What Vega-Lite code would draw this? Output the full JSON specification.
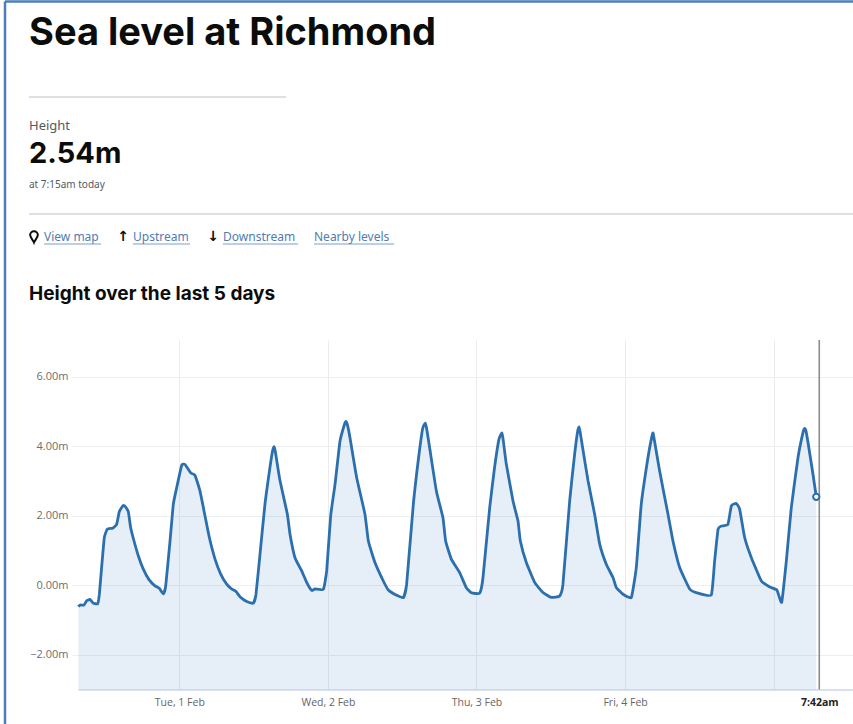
{"$schema":"https://vega.github.io/schema/vega-lite/v6.json","width":775,"height":349.5,"autosize":{"type":"none"},"padding":{"left":78,"top":340,"right":0,"bottom":34.5},"background":"white","config":{"view":{"stroke":null}},
"datasets":{"tide":[
{"t":"2022-01-31T07:41","h":-0.62},{"t":"2022-01-31T07:57","h":-0.57},{"t":"2022-01-31T08:36","h":-0.57},{"t":"2022-01-31T09:02","h":-0.45},{"t":"2022-01-31T09:34","h":-0.41},{"t":"2022-01-31T10:07","h":-0.52},{"t":"2022-01-31T10:49","h":-0.53},{"t":"2022-01-31T11:05","h":-0.26},{"t":"2022-01-31T11:27","h":0.51},{"t":"2022-01-31T11:53","h":1.37},{"t":"2022-01-31T12:22","h":1.61},{"t":"2022-01-31T13:14","h":1.64},{"t":"2022-01-31T13:53","h":1.75},{"t":"2022-01-31T14:18","h":2.11},{"t":"2022-01-31T14:50","h":2.27},{"t":"2022-01-31T15:04","h":2.29},{"t":"2022-01-31T15:20","h":2.25},{"t":"2022-01-31T15:46","h":2.11},{"t":"2022-01-31T16:08","h":1.66},{"t":"2022-01-31T16:41","h":1.27},{"t":"2022-01-31T17:23","h":0.84},{"t":"2022-01-31T18:11","h":0.46},{"t":"2022-01-31T19:06","h":0.16},{"t":"2022-01-31T20:04","h":-0.02},{"t":"2022-01-31T20:46","h":-0.09},{"t":"2022-01-31T21:25","h":-0.25},{"t":"2022-01-31T21:48","h":-0.02},{"t":"2022-01-31T22:30","h":1.27},{"t":"2022-01-31T23:02","h":2.33},{"t":"2022-01-31T23:34","h":2.8},
{"t":"2022-02-01T00:23","h":3.45},{"t":"2022-02-01T00:55","h":3.47},{"t":"2022-02-01T01:50","h":3.23},{"t":"2022-02-01T02:32","h":3.16},{"t":"2022-02-01T03:20","h":2.71},{"t":"2022-02-01T04:09","h":1.99},{"t":"2022-02-01T04:51","h":1.37},{"t":"2022-02-01T05:46","h":0.75},{"t":"2022-02-01T06:41","h":0.32},{"t":"2022-02-01T07:39","h":0.03},{"t":"2022-02-01T08:27","h":-0.11},{"t":"2022-02-01T09:09","h":-0.18},{"t":"2022-02-01T09:48","h":-0.33},{"t":"2022-02-01T10:53","h":-0.47},{"t":"2022-02-01T11:57","h":-0.52},{"t":"2022-02-01T12:23","h":-0.26},{"t":"2022-02-01T13:02","h":0.89},{"t":"2022-02-01T13:50","h":2.33},{"t":"2022-02-01T14:39","h":3.4},{"t":"2022-02-01T15:05","h":3.88},{"t":"2022-02-01T15:18","h":3.98},{"t":"2022-02-01T15:30","h":3.85},{"t":"2022-02-01T15:50","h":3.47},{"t":"2022-02-01T16:16","h":3.0},{"t":"2022-02-01T17:27","h":2.04},{"t":"2022-02-01T17:53","h":1.46},{"t":"2022-02-01T18:41","h":0.79},{"t":"2022-02-01T19:46","h":0.41},{"t":"2022-02-01T20:34","h":0.08},{"t":"2022-02-01T21:23","h":-0.15},{"t":"2022-02-01T21:55","h":-0.11},{"t":"2022-02-01T23:16","h":-0.12},{"t":"2022-02-01T23:48","h":0.41},
{"t":"2022-02-02T00:27","h":2.0},{"t":"2022-02-02T01:09","h":2.9},{"t":"2022-02-02T01:57","h":4.14},{"t":"2022-02-02T02:40","h":4.62},{"t":"2022-02-02T02:55","h":4.71},{"t":"2022-02-02T03:10","h":4.6},{"t":"2022-02-02T03:34","h":4.24},{"t":"2022-02-02T04:39","h":3.09},{"t":"2022-02-02T05:59","h":2.04},{"t":"2022-02-02T06:32","h":1.27},{"t":"2022-02-02T07:36","h":0.65},{"t":"2022-02-02T08:57","h":0.12},{"t":"2022-02-02T09:46","h":-0.14},{"t":"2022-02-02T11:06","h":-0.29},{"t":"2022-02-02T12:11","h":-0.36},{"t":"2022-02-02T12:43","h":0.03},{"t":"2022-02-02T13:48","h":2.33},{"t":"2022-02-02T14:36","h":3.6},{"t":"2022-02-02T15:18","h":4.5},{"t":"2022-02-02T15:44","h":4.66},{"t":"2022-02-02T16:00","h":4.45},{"t":"2022-02-02T16:26","h":3.95},{"t":"2022-02-02T17:31","h":2.71},{"t":"2022-02-02T18:35","h":1.94},{"t":"2022-02-02T19:01","h":1.27},{"t":"2022-02-02T19:56","h":0.75},{"t":"2022-02-02T21:17","h":0.36},{"t":"2022-02-02T22:21","h":-0.07},{"t":"2022-02-02T23:10","h":-0.22},
{"t":"2022-02-03T00:31","h":-0.23},{"t":"2022-02-03T01:03","h":0.22},{"t":"2022-02-03T02:08","h":2.23},{"t":"2022-02-03T02:56","h":3.4},{"t":"2022-02-03T03:38","h":4.2},{"t":"2022-02-03T04:07","h":4.38},{"t":"2022-02-03T04:20","h":4.15},{"t":"2022-02-03T04:49","h":3.48},{"t":"2022-02-03T05:54","h":2.42},{"t":"2022-02-03T06:42","h":1.85},{"t":"2022-02-03T07:05","h":1.27},{"t":"2022-02-03T08:03","h":0.65},{"t":"2022-02-03T09:24","h":0.08},{"t":"2022-02-03T10:45","h":-0.21},{"t":"2022-02-03T12:05","h":-0.35},{"t":"2022-02-03T13:26","h":-0.31},{"t":"2022-02-03T13:58","h":0.03},{"t":"2022-02-03T15:03","h":2.42},{"t":"2022-02-03T15:51","h":3.76},{"t":"2022-02-03T16:20","h":4.42},{"t":"2022-02-03T16:33","h":4.55},{"t":"2022-02-03T16:45","h":4.4},{"t":"2022-02-03T17:06","h":4.0},{"t":"2022-02-03T18:01","h":3.0},{"t":"2022-02-03T19:05","h":2.04},{"t":"2022-02-03T19:54","h":1.18},{"t":"2022-02-03T20:58","h":0.6},{"t":"2022-02-03T22:03","h":0.22},{"t":"2022-02-03T22:35","h":-0.07},{"t":"2022-02-03T23:40","h":-0.26},
{"t":"2022-02-04T01:01","h":-0.35},{"t":"2022-02-04T01:49","h":0.51},{"t":"2022-02-04T02:37","h":2.33},{"t":"2022-02-04T03:42","h":3.67},{"t":"2022-02-04T04:18","h":4.25},{"t":"2022-02-04T04:31","h":4.38},{"t":"2022-02-04T04:45","h":4.15},{"t":"2022-02-04T05:35","h":3.28},{"t":"2022-02-04T06:56","h":2.04},{"t":"2022-02-04T07:44","h":1.27},{"t":"2022-02-04T08:49","h":0.51},{"t":"2022-02-04T10:26","h":-0.11},{"t":"2022-02-04T11:47","h":-0.23},{"t":"2022-02-04T13:56","h":-0.28},{"t":"2022-02-04T14:28","h":0.7},{"t":"2022-02-04T15:01","h":1.61},{"t":"2022-02-04T15:33","h":1.7},{"t":"2022-02-04T16:37","h":1.75},{"t":"2022-02-04T17:10","h":2.28},{"t":"2022-02-04T17:58","h":2.35},{"t":"2022-02-04T18:31","h":2.18},{"t":"2022-02-04T19:19","h":1.37},{"t":"2022-02-04T20:24","h":0.79},{"t":"2022-02-04T22:01","h":0.12},{"t":"2022-02-04T23:21","h":-0.05},
{"t":"2022-02-05T00:32","h":-0.14},{"t":"2022-02-05T01:18","h":-0.49},{"t":"2022-02-05T02:03","h":0.7},{"t":"2022-02-05T02:51","h":2.23},{"t":"2022-02-05T03:56","h":3.67},{"t":"2022-02-05T04:45","h":4.4},{"t":"2022-02-05T05:00","h":4.51},{"t":"2022-02-05T05:12","h":4.45},{"t":"2022-02-05T05:33","h":4.1},{"t":"2022-02-05T06:21","h":3.19},{"t":"2022-02-05T06:53","h":2.54}],
"latest":[{"t":"2022-02-05T06:53","h":2.54}],
"now":[{"t":"2022-02-05T07:22"}],
"header":[
{"role":"title","text":"Sea level at Richmond","col":1,"line":1},
{"role":"label","text":"Height","col":1,"line":3},
{"role":"value","text":"2.54m","col":1,"line":4},
{"role":"small","text":"at 7:15am today","col":1,"line":5},
{"role":"link","text":"View map","col":3,"colEnd":4,"line":7,"lineEnd":8},
{"role":"link","text":"Upstream","col":6,"colEnd":7,"line":7,"lineEnd":8},
{"role":"link","text":"Downstream","col":9,"colEnd":11,"line":7,"lineEnd":8},
{"role":"link","text":"Nearby levels","col":12,"colEnd":13,"line":7,"lineEnd":8},
{"role":"arrow","text":"↑","col":5,"line":7},
{"role":"arrow","text":"↓","col":8,"line":7},
{"role":"pin","col":2,"line":7},
{"role":"heading","text":"Height over the last 5 days","col":1,"line":9},
{"role":"divider","col":1,"colEnd":10,"line":2,"lineEnd":2},
{"role":"divider","col":1,"colEnd":14,"line":6,"lineEnd":6},
{"role":"frame","col":0,"colEnd":14,"line":0,"lineEnd":0},
{"role":"frame","col":0,"colEnd":0,"line":0,"lineEnd":10}]},
"layer":[
{"encoding":{"x":{"field":"t","type":"temporal","title":null,"scale":{"domain":[{"year":2022,"month":1,"date":31,"hours":7,"minutes":38},{"year":2022,"month":2,"date":5,"hours":12,"minutes":49}]},
"axis":{"values":[{"year":2022,"month":2,"date":1},{"year":2022,"month":2,"date":2},{"year":2022,"month":2,"date":3},{"year":2022,"month":2,"date":4},{"year":2022,"month":2,"date":5},{"year":2022,"month":2,"date":5,"hours":7,"minutes":22}],
"labelExpr":"hours(datum.value)==7?'7:42am':(date(datum.value)==5?'':timeFormat(datum.value,'%a, %-d %b'))","labelColor":{"condition":{"test":"hours(datum.value)==7","value":"#222222"},"value":"#666666"},"labelFontWeight":{"condition":{"test":"hours(datum.value)==7","value":"bold"},"value":"normal"},"labelFont":"Open Sans","labelFontSize":10.5,"labelPadding":8,"labelOverlap":false,"ticks":false,"grid":true,"gridColor":"#e9ecef","gridWidth":1,"domainColor":"#ccd6eb","domainWidth":1.5,"labelFlush":false}}},
"layer":[
{"data":{"name":"tide"},"mark":{"type":"area","interpolate":"cardinal","tension":0.6,"fill":"#1d70b8","fillOpacity":0.11},"encoding":{"y":{"field":"h","type":"quantitative","title":null,"scale":{"domain":[-3,7.05],"nice":false,"zero":false},"axis":{"values":[-2,0,2,4,6],"labelExpr":"format(datum.value,'.2f')+'m'","labelFont":"Open Sans","labelFontSize":11,"labelColor":"#6e6e6e","labelPadding":4,"tickSize":6,"tickColor":"#eceeef","grid":true,"gridColor":"#eceeef","gridWidth":1,"domain":false}},"y2":{"datum":-3}}},
{"data":{"name":"tide"},"mark":{"type":"line","interpolate":"cardinal","tension":0.6,"stroke":"#2b6fae","strokeWidth":2.8,"strokeJoin":"round"},"encoding":{"y":{"field":"h","type":"quantitative"}}},
{"data":{"name":"now"},"mark":{"type":"rule","color":"#8c8c8c","size":1.6}},
{"data":{"name":"latest"},"mark":{"type":"point","filled":true,"fill":"white","stroke":"#2b6fae","strokeWidth":2,"size":40,"opacity":1},"encoding":{"y":{"field":"h","type":"quantitative"}}}
]},
{"data":{"name":"header"},
"encoding":{"x":{"field":"col","type":"quantitative","axis":null,"scale":{"domain":[0,1,2,3,4,5,6,7,8,9,10,11,12,13,14],"range":[-73,-49,-44,-34,23,45,55,112,135,145,208,220,236,316,775],"nice":false,"zero":false}},
"y":{"field":"line","type":"quantitative","axis":null,"scale":{"domain":[0,1,2,3,4,5,6,7,8,9,10],"range":[-338.5,-306,-243,-214,-186,-155,-126,-103,-96,-46,384],"nice":false,"zero":false}}},
"layer":[
{"transform":[{"filter":"datum.role=='frame'"}],"mark":{"type":"rule","stroke":"#4a7ebf","strokeWidth":2.5},"encoding":{"x2":{"field":"colEnd"},"y2":{"field":"lineEnd"}}},
{"transform":[{"filter":"datum.role=='divider'"}],"mark":{"type":"rule","stroke":"#bcc0c2","strokeWidth":1},"encoding":{"x2":{"field":"colEnd"},"y2":{"field":"lineEnd"}}},
{"transform":[{"filter":"datum.role=='link'"}],"mark":{"type":"rule","stroke":"#7f9fc4","strokeWidth":1},"encoding":{"x2":{"field":"colEnd"},"y":{"field":"lineEnd"}}},
{"transform":[{"filter":"datum.role=='title'"}],"mark":{"type":"text","align":"left","baseline":"middle","font":"Inter","fontWeight":"bold","fontSize":38,"color":"#0b0c0c"},"encoding":{"text":{"field":"text"}}},
{"transform":[{"filter":"datum.role=='label'"}],"mark":{"type":"text","align":"left","baseline":"middle","font":"Noto Sans","fontSize":13,"color":"#505a5f"},"encoding":{"text":{"field":"text"}}},
{"transform":[{"filter":"datum.role=='value'"}],"mark":{"type":"text","align":"left","baseline":"middle","font":"Inter","fontWeight":"bold","fontSize":29,"color":"#0b0c0c"},"encoding":{"text":{"field":"text"}}},
{"transform":[{"filter":"datum.role=='small'"}],"mark":{"type":"text","align":"left","baseline":"middle","font":"Noto Sans","fontSize":10,"color":"#505a5f"},"encoding":{"text":{"field":"text"}}},
{"transform":[{"filter":"datum.role=='link'"}],"mark":{"type":"text","align":"left","baseline":"middle","font":"Noto Sans","fontSize":12,"color":"#4f7cb3"},"encoding":{"text":{"field":"text"}}},
{"transform":[{"filter":"datum.role=='arrow'"}],"mark":{"type":"text","align":"center","baseline":"middle","font":"DejaVu Sans","fontWeight":"bold","fontSize":14,"color":"#0b0c0c"},"encoding":{"text":{"field":"text"}}},
{"transform":[{"filter":"datum.role=='pin'"}],"mark":{"type":"point","shape":"M0,1 C-0.2,0.5 -0.7,0.1 -0.7,-0.35 A0.65,0.65 0 1 1 0.7,-0.35 C0.7,0.1 0.2,0.5 0,1 Z","filled":false,"stroke":"#0b0c0c","strokeWidth":2,"size":120,"opacity":1}},
{"transform":[{"filter":"datum.role=='heading'"}],"mark":{"type":"text","align":"left","baseline":"middle","font":"Inter","fontWeight":"bold","fontSize":19,"color":"#0b0c0c"},"encoding":{"text":{"field":"text"}}}
]}
],
"resolve":{"scale":{"x":"independent","y":"independent"}}}
